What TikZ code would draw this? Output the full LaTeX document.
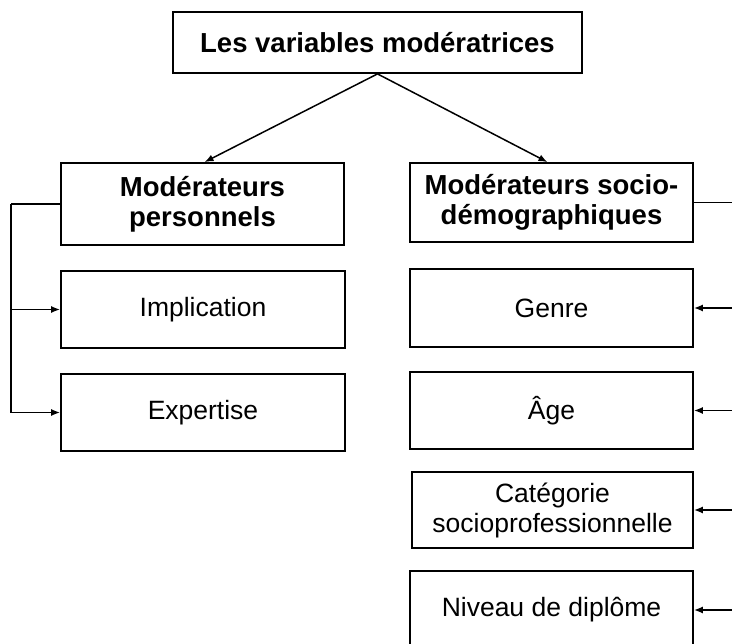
\documentclass[tikz,border=0pt]{standalone}
\usepackage{fontspec}
\setmainfont{Liberation Sans}
\usetikzlibrary{arrows.meta}
\begin{document}
\begin{tikzpicture}[x=1pt,y=-1pt,
  boxnode/.style={draw=black, line width=1.8pt, rectangle, inner sep=0pt, align=center,
     font=\fontsize{26.5}{30}\selectfont},
  bold/.style={font=\fontsize{27.5}{30}\selectfont\bfseries},
  conn/.style={line width=1.5pt},
  arr/.style={conn, -{Latex[length=9pt,width=7pt]}}]
\useasboundingbox (0,0) rectangle (732,644);
\clip (0,0) rectangle (732,644);
\node[boxnode,bold,minimum width=409pt,minimum height=61pt] (top) at (377.5,42.5) {Les variables modératrices};
\node[boxnode,bold,minimum width=283pt,minimum height=82pt] (mp) at (202.5,204) {Modérateurs\\personnels};
\node[boxnode,minimum width=284pt,minimum height=77pt] (impl) at (203,309.5) {Implication};
\node[boxnode,minimum width=284pt,minimum height=77pt] (expe) at (203,412.5) {Expertise};
\node[boxnode,bold,minimum width=283pt,minimum height=79pt] (ms) at (551.5,202.5) {Modérateurs socio-\\démographiques};
\node[boxnode,minimum width=283pt,minimum height=78pt] (genre) at (551.5,308) {Genre};
\node[boxnode,minimum width=283pt,minimum height=77pt] (age) at (551.5,410.5) {Âge};
\node[boxnode,minimum width=281pt,minimum height=76pt] (cat) at (552.5,510) {Catégorie\\socioprofessionnelle};
\node[boxnode,minimum width=283pt,minimum height=78pt] (niv) at (551.5,610) {Niveau de diplôme};
% top arrows
\draw[arr] (top.south) -- ([xshift=2pt]mp.north);
\draw[arr] (top.south) -- ([xshift=-4pt]ms.north);
% left bus
\coordinate (lb) at (11,204);
\draw[conn] (mp.west) -- (lb);
\draw[arr] (lb) |- (expe.west);
\draw[arr] (lb |- impl.west) -- (impl.west);
% right bus
\coordinate (rb) at (740,202.5);
\draw[conn] (ms.east) -- (rb) -- (rb |- niv.east);
\draw[arr] (rb |- genre.east) -- (genre.east);
\draw[arr] (rb |- age.east) -- (age.east);
\draw[arr] (rb |- cat.east) -- (cat.east);
\draw[arr] (rb |- niv.east) -- (niv.east);
\end{tikzpicture}
\end{document}
